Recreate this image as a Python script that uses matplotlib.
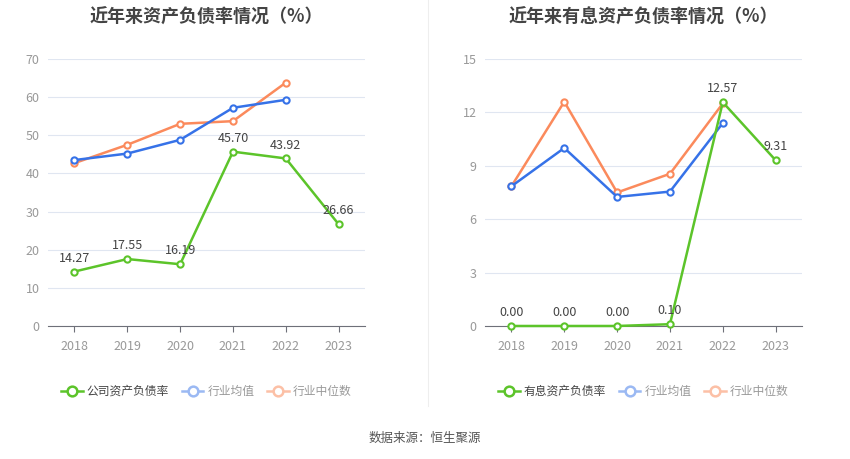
import matplotlib
matplotlib.use('Agg')
import matplotlib.pyplot as plt
from matplotlib.lines import Line2D

plt.rcParams['font.family'] = ['Noto Sans CJK SC', 'DejaVu Sans']

years = ['2018', '2019', '2020', '2021', '2022', '2023']

# 左图：资产负债率
company_debt = [14.27, 17.55, 16.19, 45.70, 43.92, 26.66]
industry_mean = [43.5, 45.2, 48.8, 57.2, 59.3]
industry_median = [42.7, 47.5, 53.0, 53.7, 63.8]

# 右图：有息资产负债率
company_int = [0.00, 0.00, 0.00, 0.10, 12.57, 9.31]
int_mean = [7.85, 10.0, 7.25, 7.55, 11.4]
int_median = [7.85, 12.6, 7.5, 8.55, 12.5]

green = '#5cc42a'
blue = '#3672e8'
orange = '#fb8a5c'
blue_l = '#9bb9f3'
orange_l = '#fcc0a6'

fig = plt.figure(figsize=(8.5, 4.59), dpi=100)


def draw(ax, title, comp, mean, med, yticks, comp_name):
    x = list(range(len(years)))
    for vals, c, z in [(med, orange, 2), (mean, blue, 3), (comp, green, 4)]:
        ax.plot(x[:len(vals)], vals, color=c, lw=1.8, marker='o', ms=4.5,
                mfc='white', mec=c, mew=1.5, zorder=z, clip_on=False)
    for i, v in enumerate(comp):
        ax.annotate(f'{v:.2f}', (i, v), xytext=(0, 5), textcoords='offset points',
                    ha='center', va='bottom', fontsize=9, color='#444444', zorder=6)
    ax.set_xlim(-0.5, len(years) - 0.5)
    ax.set_ylim(yticks[0], yticks[-1])
    ax.set_yticks(yticks)
    ax.set_xticks(x)
    ax.set_xticklabels(years)
    ax.tick_params(axis='both', colors='#999999', labelsize=9, length=0, pad=6)
    ax.tick_params(axis='x', length=4, color='#6e7079', direction='out')
    ax.grid(axis='y', color='#e0e6f1', lw=0.8)
    ax.set_axisbelow(True)
    for s in ['top', 'right', 'left']:
        ax.spines[s].set_visible(False)
    ax.spines['bottom'].set_color('#6e7079')
    ax.set_title(title, fontsize=13, fontweight='bold', color='#444444', pad=26)

    handles = [
        Line2D([], [], color=green, lw=1.8, marker='o', ms=7, mfc='white', mec=green, mew=1.8),
        Line2D([], [], color=blue_l, lw=1.8, marker='o', ms=7, mfc='white', mec=blue_l, mew=1.8),
        Line2D([], [], color=orange_l, lw=1.8, marker='o', ms=7, mfc='white', mec=orange_l, mew=1.8),
    ]
    leg = ax.legend(handles, [comp_name, '行业均值', '行业中位数'], loc='center',
                    bbox_to_anchor=(0.5, -0.245), ncol=3, frameon=False, fontsize=8.5,
                    handlelength=1.8, handletextpad=0.35, columnspacing=1.1)
    for t, c in zip(leg.get_texts(), ['#444444', '#999999', '#999999']):
        t.set_color(c)


ax1 = fig.add_axes([0.0565, 0.2898, 0.373, 0.5817])
draw(ax1, '近年来资产负债率情况（%）', company_debt, industry_mean, industry_median,
     [0, 10, 20, 30, 40, 50, 60, 70], '公司资产负债率')

ax2 = fig.add_axes([0.5706, 0.2898, 0.373, 0.5817])
draw(ax2, '近年来有息资产负债率情况（%）', company_int, int_mean, int_median,
     [0, 3, 6, 9, 12, 15], '有息资产负债率')

# 分隔线
fig.add_artist(Line2D([0.503, 0.503], [0.115, 1.0], color='#eeeeee', lw=0.8))

fig.text(0.5, 0.045, '数据来源：恒生聚源', ha='center', va='center', fontsize=9, color='#555555')

fig.savefig('out.png', dpi=100)
